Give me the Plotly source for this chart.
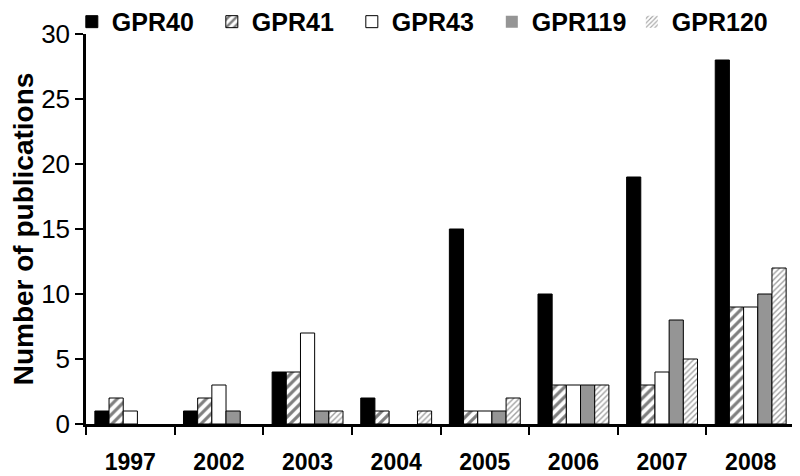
import plotly.graph_objects as go

years = ["1997", "2002", "2003", "2004", "2005", "2006", "2007", "2008"]
gpr40 = [1, 1, 4, 2, 15, 10, 19, 28]
gpr41 = [2, 2, 4, 1, 1, 3, 3, 9]
gpr43 = [1, 3, 7, 0, 1, 3, 4, 9]
gpr119 = [0, 1, 1, 0, 1, 3, 8, 10]
gpr120 = [0, 0, 1, 1, 2, 3, 5, 12]

FONT = "Liberation Sans, Arial, sans-serif"


def outline(vals):
    # no outline on empty bars, so zeros stay invisible
    return dict(color="black", width=[1 if v else 0 for v in vals])


fig = go.Figure()
fig.add_trace(go.Bar(name="GPR40", x=years, y=gpr40,
                     marker=dict(color="black", line=outline(gpr40))))
fig.add_trace(go.Bar(name="GPR41", x=years, y=gpr41,
                     marker=dict(color="white", line=outline(gpr41),
                                 pattern=dict(shape="/", fgcolor="black", bgcolor="white",
                                              size=7, solidity=0.45))))
fig.add_trace(go.Bar(name="GPR43", x=years, y=gpr43,
                     marker=dict(color="white", line=outline(gpr43))))
fig.add_trace(go.Bar(name="GPR119", x=years, y=gpr119,
                     marker=dict(color="#959595", line=outline(gpr119))))
fig.add_trace(go.Bar(name="GPR120", x=years, y=gpr120,
                     marker=dict(color="white", line=outline(gpr120),
                                 pattern=dict(shape="/", fgcolor="#444444", bgcolor="white",
                                              size=4, solidity=0.35))))

# the page body has an 8px margin, so the figure is 8px smaller than the window
fig.update_layout(
    width=792, height=468,
    margin=dict(l=78, r=5, t=26, b=52, autoexpand=False),
    plot_bgcolor="white", paper_bgcolor="white",
    barmode="group", bargap=0.2, bargroupgap=0,
    font=dict(family=FONT, color="black"),
    legend=dict(orientation="h", x=-0.02, xanchor="left", y=1.031, yanchor="middle",
                font=dict(size=25, weight="bold"), itemwidth=30,
                entrywidth=95, entrywidthmode="pixels",
                traceorder="normal", bgcolor="rgba(0,0,0,0)"),
)

fig.update_xaxes(
    showline=True, linecolor="black", linewidth=2.5,
    ticks="outside", tickson="boundaries", ticklen=8, tickwidth=2, tickcolor="black",
    tickfont=dict(size=23, weight="bold"), ticklabelstandoff=16,
    showgrid=False, automargin=False,
)
fig.update_yaxes(
    range=[0, 30], dtick=5,
    showline=True, linecolor="black", linewidth=2.5,
    ticks="outside", ticklen=8, tickwidth=1.5, tickcolor="black",
    tickfont=dict(size=26),
    showgrid=False, zeroline=False, automargin=False,
    title=dict(text="Number of publications", font=dict(size=28, weight="bold"), standoff=17),
)

fig.write_html("out.html")
